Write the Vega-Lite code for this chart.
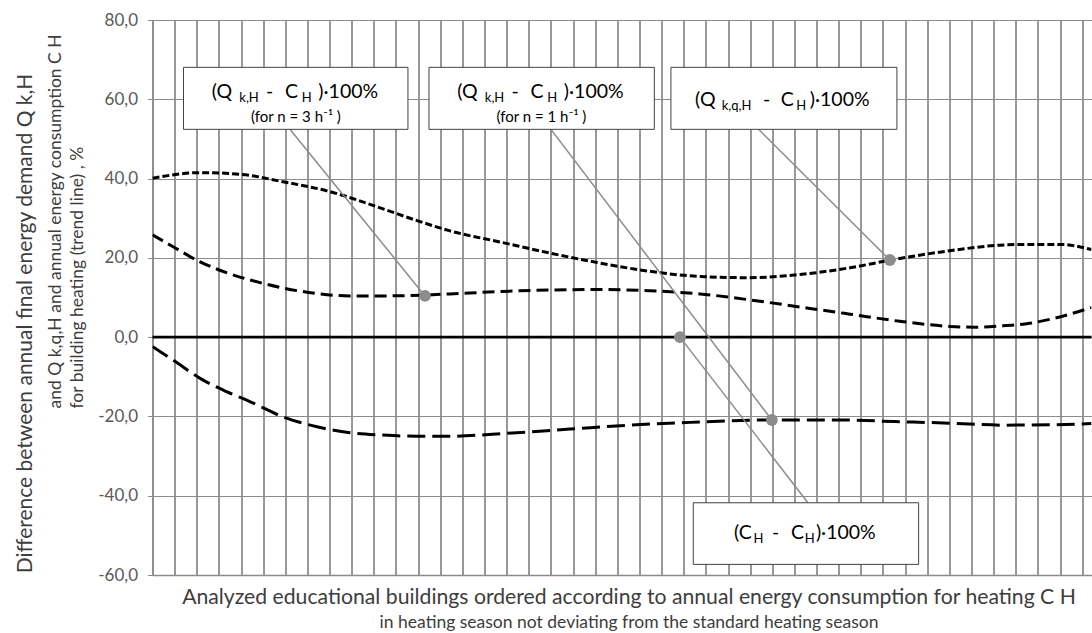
{
  "$schema": "https://vega.github.io/schema/vega-lite/v6.json",
  "width": 939,
  "height": 555,
  "autosize": {"type": "none"},
  "padding": {"left": 152.5, "top": 20, "right": 0, "bottom": 58},
  "background": "white",
  "config": {"view": {"stroke": null}, "font": "Lato"},
  "datasets": {
    "curves": [
      {"series": "qkq", "i": 0, "v": 40.1}, {"series": "qkq", "i": 2.15, "v": 41.5}, {"series": "qkq", "i": 3.95, "v": 41.1},
      {"series": "qkq", "i": 5.89, "v": 39.2}, {"series": "qkq", "i": 8.02, "v": 36.7}, {"series": "qkq", "i": 10.14, "v": 32.9},
      {"series": "qkq", "i": 11.95, "v": 29.4}, {"series": "qkq", "i": 13.44, "v": 26.8}, {"series": "qkq", "i": 15.7, "v": 24.0},
      {"series": "qkq", "i": 17.96, "v": 21.2}, {"series": "qkq", "i": 20.21, "v": 18.7}, {"series": "qkq", "i": 22.47, "v": 16.6},
      {"series": "qkq", "i": 24.73, "v": 15.3}, {"series": "qkq", "i": 26.99, "v": 15.0}, {"series": "qkq", "i": 29.25, "v": 15.8},
      {"series": "qkq", "i": 31.51, "v": 17.5}, {"series": "qkq", "i": 33.31, "v": 19.4}, {"series": "qkq", "i": 36.02, "v": 21.8},
      {"series": "qkq", "i": 38.28, "v": 23.2}, {"series": "qkq", "i": 39.63, "v": 23.4}, {"series": "qkq", "i": 40.99, "v": 23.4},
      {"series": "qkq", "i": 42.42, "v": 22.1},
      {"series": "n3", "i": 0, "v": 25.8}, {"series": "n3", "i": 0.93, "v": 22.8}, {"series": "n3", "i": 2.15, "v": 19.0},
      {"series": "n3", "i": 3.37, "v": 16.2}, {"series": "n3", "i": 4.42, "v": 14.4}, {"series": "n3", "i": 5.89, "v": 12.4},
      {"series": "n3", "i": 7.43, "v": 11.0}, {"series": "n3", "i": 8.92, "v": 10.4}, {"series": "n3", "i": 10.41, "v": 10.4},
      {"series": "n3", "i": 12.22, "v": 10.6}, {"series": "n3", "i": 13.44, "v": 10.9}, {"series": "n3", "i": 15.7, "v": 11.5},
      {"series": "n3", "i": 17.96, "v": 11.9}, {"series": "n3", "i": 20.21, "v": 12.0}, {"series": "n3", "i": 22.47, "v": 11.7},
      {"series": "n3", "i": 24.73, "v": 10.9}, {"series": "n3", "i": 26.99, "v": 9.4}, {"series": "n3", "i": 29.25, "v": 7.6},
      {"series": "n3", "i": 31.51, "v": 5.8}, {"series": "n3", "i": 33.76, "v": 4.0}, {"series": "n3", "i": 36.02, "v": 2.7},
      {"series": "n3", "i": 37.15, "v": 2.5}, {"series": "n3", "i": 38.28, "v": 2.8}, {"series": "n3", "i": 39.63, "v": 3.5},
      {"series": "n3", "i": 40.99, "v": 5.1}, {"series": "n3", "i": 42.42, "v": 7.5},
      {"series": "n1", "i": 0, "v": -2.4}, {"series": "n1", "i": 0.93, "v": -5.8}, {"series": "n1", "i": 2.15, "v": -10.4},
      {"series": "n1", "i": 3.37, "v": -13.8}, {"series": "n1", "i": 4.42, "v": -16.3}, {"series": "n1", "i": 5.89, "v": -20.1},
      {"series": "n1", "i": 7.43, "v": -22.6}, {"series": "n1", "i": 8.92, "v": -24.1}, {"series": "n1", "i": 10.41, "v": -24.7},
      {"series": "n1", "i": 11.95, "v": -25.0}, {"series": "n1", "i": 13.44, "v": -25.0}, {"series": "n1", "i": 15.88, "v": -24.3},
      {"series": "n1", "i": 18.86, "v": -23.2}, {"series": "n1", "i": 21.57, "v": -22.2}, {"series": "n1", "i": 24.28, "v": -21.5},
      {"series": "n1", "i": 27.98, "v": -20.9}, {"series": "n1", "i": 31.05, "v": -20.9}, {"series": "n1", "i": 33.54, "v": -21.3},
      {"series": "n1", "i": 36.02, "v": -21.7}, {"series": "n1", "i": 38.42, "v": -22.2}, {"series": "n1", "i": 40.58, "v": -22.1},
      {"series": "n1", "i": 42.42, "v": -21.8}
    ],
    "zero": [{"v": 0}],
    "dots": [
      {"i": 12.31, "v": 10.4}, {"i": 23.83, "v": 0}, {"i": 27.98, "v": -20.9}, {"i": 33.31, "v": 19.45}
    ],
    "leaders": [
      {"i": 6.21, "v": 52.42, "i2": 12.31, "v2": 10.4},
      {"i": 18.0, "v": 52.42, "i2": 27.98, "v2": -20.9},
      {"i": 27.38, "v": 52.42, "i2": 33.31, "v2": 19.45},
      {"i": 23.83, "v": 0, "i2": 29.61, "v2": -41.78}
    ],
    "boxes": [
      {"i": 1.4, "i2": 11.54, "v": 52.42, "v2": 68.06},
      {"i": 12.49, "i2": 22.67, "v": 52.42, "v2": 68.06},
      {"i": 23.42, "i2": 33.63, "v": 52.42, "v2": 68.06},
      {"i": 24.43, "i2": 34.61, "v": -57.32, "v2": -41.78}
    ],
    "main": [
      {"i": 2.674, "v": 60.24, "t": "(Q"}, {"i": 5.127, "v": 60.24, "t": "-"}, {"i": 5.986, "v": 60.24, "t": "C"}, {"i": 7.49, "v": 60.24, "t": ")·100%"},
      {"i": 13.765, "v": 60.24, "t": "(Q"}, {"i": 16.218, "v": 60.24, "t": "-"}, {"i": 17.077, "v": 60.24, "t": "C"}, {"i": 18.581, "v": 60.24, "t": ")·100%"},
      {"i": 24.512, "v": 58.3, "t": "(Q"}, {"i": 27.584, "v": 58.3, "t": "-"}, {"i": 28.379, "v": 58.3, "t": "C"}, {"i": 29.693, "v": 58.3, "t": ")·100%"},
      {"i": 26.27, "v": -50.93, "t": "(C"}, {"i": 27.99, "v": -50.93, "t": "-"}, {"i": 28.85, "v": -50.93, "t": "C"}, {"i": 29.97, "v": -50.93, "t": ")·100%"}
    ],
    "subs": [
      {"i": 3.921, "v": 59.38, "t": "k,H"}, {"i": 6.74, "v": 59.38, "t": "H"},
      {"i": 15.011, "v": 59.38, "t": "k,H"}, {"i": 17.831, "v": 59.38, "t": "H"},
      {"i": 25.714, "v": 57.29, "t": "k,q,H"}, {"i": 29.084, "v": 57.29, "t": "H"},
      {"i": 27.15, "v": -51.94, "t": "H"}, {"i": 29.47, "v": -51.94, "t": "H"}
    ],
    "notes": [
      {"i": 6.482, "v": 54.34, "t": "(for n = 3 h⁻¹ )"},
      {"i": 17.57, "v": 54.34, "t": "(for n = 1 h⁻¹ )"}
    ]
  },
  "resolve": {"axis": {"x": "independent", "y": "independent"}},
  "layer": [
    {
      "data": {"name": "curves"},
      "mark": {"type": "line", "interpolate": "monotone", "strokeWidth": 3, "color": "black", "clip": true},
      "encoding": {
        "x": {
          "field": "i", "type": "quantitative",
          "scale": {"domain": [0, 42.42], "nice": false, "zero": false},
          "axis": {
            "values": [0,1,2,3,4,5,6,7,8,9,10,11,12,13,14,15,16,17,18,19,20,21,22,23,24,25,26,27,28,29,30,31,32,33,34,35,36,37,38,39,40,41,42],
            "tickCount": 43,
            "grid": true, "gridColor": "#333333", "gridWidth": 1,
            "labels": false, "ticks": false,
            "domain": true, "domainColor": "#8c8c8c", "domainWidth": 1.5,
            "title": "Analyzed educational buildings ordered according to annual energy consumption for heating  C H",
            "titleFont": "Lato", "titleFontSize": 21.2, "titleFontWeight": "normal", "titleColor": "#3d3d3d",
            "titleX": 476, "titleY": 28, "titleAlign": "center", "titleBaseline": "alphabetic"
          }
        },
        "y": {
          "field": "v", "type": "quantitative",
          "scale": {"domain": [-60, 80], "nice": false, "zero": false},
          "axis": {
            "values": [-60, -40, -20, 0, 20, 40, 60, 80],
            "labelExpr": "datum.value + ',0'",
            "grid": true, "gridColor": "#8c8c8c", "gridWidth": 1,
            "tickColor": "#8c8c8c", "tickSize": 5, "domainColor": "#8c8c8c", "domainWidth": 1.5,
            "labelFont": "Lato", "labelFontSize": 17, "labelColor": "#595959", "labelPadding": 10,
            "title": ["and Q k,q,H and annual energy consumption C H", "for building heating  (trend line) ,  %"],
            "titleFont": "Lato", "titleFontSize": 17.5, "titleFontWeight": "normal", "titleColor": "#3d3d3d",
            "titleAngle": -90, "titleAlign": "left", "titleBaseline": "alphabetic",
            "titleX": -92, "titleY": 388, "titleLineHeight": 22
          }
        },
        "strokeDash": {
          "field": "series", "type": "nominal",
          "scale": {"domain": ["qkq", "n3", "n1"], "range": [[7, 3], [12, 6], [18, 7]]},
          "legend": null
        }
      }
    },
    {
      "data": {"name": "zero"},
      "mark": {"type": "rule", "color": "black", "strokeWidth": 2.75},
      "encoding": {"y": {"field": "v", "type": "quantitative", "axis": null}}
    },
    {
      "data": {"name": "leaders"},
      "mark": {"type": "rule", "color": "#8c8c8c", "strokeWidth": 1.5},
      "encoding": {
        "x": {"field": "i", "type": "quantitative", "axis": null},
        "x2": {"field": "i2"},
        "y": {"field": "v", "type": "quantitative", "axis": null},
        "y2": {"field": "v2"}
      }
    },
    {
      "data": {"name": "boxes"},
      "mark": {"type": "rect", "fill": "white", "stroke": "#404040", "strokeWidth": 1},
      "encoding": {
        "x": {"field": "i", "type": "quantitative", "axis": null},
        "x2": {"field": "i2"},
        "y": {"field": "v", "type": "quantitative", "axis": null},
        "y2": {"field": "v2"}
      }
    },
    {
      "data": {"name": "main"},
      "mark": {"type": "text", "align": "left", "baseline": "alphabetic", "font": "Lato", "fontSize": 19.5, "color": "black"},
      "encoding": {
        "x": {"field": "i", "type": "quantitative", "axis": null},
        "y": {"field": "v", "type": "quantitative", "axis": null},
        "text": {"field": "t"}
      }
    },
    {
      "data": {"name": "subs"},
      "mark": {"type": "text", "align": "left", "baseline": "alphabetic", "font": "Lato", "fontSize": 13, "color": "black"},
      "encoding": {
        "x": {"field": "i", "type": "quantitative", "axis": null},
        "y": {"field": "v", "type": "quantitative", "axis": null},
        "text": {"field": "t"}
      }
    },
    {
      "data": {"name": "notes"},
      "mark": {"type": "text", "align": "center", "baseline": "alphabetic", "font": "Lato", "fontSize": 15, "color": "black"},
      "encoding": {
        "x": {
          "field": "i", "type": "quantitative",
          "axis": {
            "orient": "bottom", "labels": false, "ticks": false, "domain": false, "grid": false,
            "title": "in heating season not deviating from the standard heating season",
            "titleFont": "Lato", "titleFontSize": 17.5, "titleFontWeight": "normal", "titleColor": "#3d3d3d",
            "titleX": 476, "titleY": 52, "titleAlign": "center", "titleBaseline": "alphabetic"
          }
        },
        "y": {"field": "v", "type": "quantitative", "axis": null},
        "text": {"field": "t"}
      }
    },
    {
      "data": {"name": "dots"},
      "mark": {"type": "circle", "color": "#8c8c8c", "size": 140, "opacity": 1},
      "encoding": {
        "x": {"field": "i", "type": "quantitative", "axis": null},
        "y": {
          "field": "v", "type": "quantitative",
          "axis": {
            "orient": "left", "labels": false, "ticks": false, "domain": false, "grid": false,
            "title": "Difference between annual final energy demand  Q k,H",
            "titleFont": "Lato", "titleFontSize": 21, "titleFontWeight": "normal", "titleColor": "#3d3d3d",
            "titleAngle": -90, "titleAlign": "center", "titleBaseline": "alphabetic",
            "titleX": -121, "titleY": 303
          }
        }
      }
    }
  ]
}
